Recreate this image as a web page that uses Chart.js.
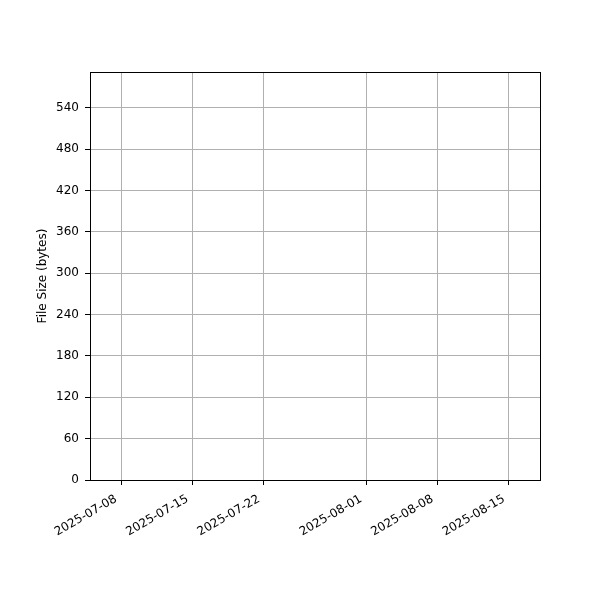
<!DOCTYPE html>
<html lang="en">
<head>
<meta charset="UTF-8" />
<title>File Size</title>
<script src="https://cdn.jsdelivr.net/npm/chart.js@4.4.1/dist/chart.umd.min.js"></script>
<style>
  html, body { margin:0; padding:0; background:#ffffff; }
</style>
</head>
<body>
<canvas id="size_chart" width="600" height="600"></canvas>
<script>
// values (x in days, dates as YYYY-MM-DD)
const xTickDates = ['2025-07-08', '2025-07-15', '2025-07-22', '2025-08-01', '2025-08-08', '2025-08-15'];
const yTicks = [0, 60, 120, 180, 240, 300, 360, 420, 480, 540];
const xRange = ['2025-07-04', '2025-08-18']; // plus fractions below
const yMax = 592;
const fileDates = [];   // no points visible in the reference
const fileSizes = [];

const DAY = 86400000;
function toDay(s) {
  const p = s.split('-');
  return Date.UTC(+p[0], +p[1] - 1, +p[2]) / DAY;
}
function fmtDay(d) {
  const t = new Date(Math.round(d) * DAY);
  const mm = String(t.getUTCMonth() + 1).padStart(2, '0');
  const dd = String(t.getUTCDate()).padStart(2, '0');
  return t.getUTCFullYear() + '-' + mm + '-' + dd;
}

const xMin = toDay(xRange[0]) + 0.96;
const xMax = toDay(xRange[1]) + 0.04;

const points = fileDates.map((d, i) => ({ x: toDay(d), y: fileSizes[i] }));

// matplotlib style closed frame round the plot area
const frame = {
  id: 'frame',
  afterDraw(chart) {
    const a = chart.chartArea, ctx = chart.ctx;
    ctx.save();
    ctx.strokeStyle = '#000000';
    ctx.lineWidth = 1;
    ctx.strokeRect(Math.round(a.left) + 0.5, Math.round(a.top) + 0.5,
                   Math.round(a.right - a.left), Math.round(a.bottom - a.top));
    ctx.restore();
  }
};

Chart.defaults.font.family = '"DejaVu Sans", sans-serif';
Chart.defaults.font.size = 12;
Chart.defaults.color = '#000000';

new Chart(document.getElementById('size_chart'), {
  type: 'line',
  data: {
    datasets: [{
      label: 'File Size',
      data: points,
      borderColor: '#1f77b4',
      backgroundColor: '#1f77b4',
      borderWidth: 1.5,
      pointRadius: 0
    }]
  },
  options: {
    responsive: false,
    animation: false,
    devicePixelRatio: 1,
    layout: { padding: { left: 36, right: 60, top: 72, bottom: 0 } },
    plugins: { legend: { display: false }, tooltip: { enabled: false } },
    scales: {
      x: {
        type: 'linear',
        min: xMin,
        max: xMax,
        afterBuildTicks(s) { s.ticks = xTickDates.map(d => ({ value: toDay(d) })); },
        afterFit(s) { s.height = 120; },
        ticks: {
          callback: v => fmtDay(v),
          minRotation: 30,
          maxRotation: 30,
          autoSkip: false,
          padding: 7,
          labelOffset: -5,
          font: { size: 12 }
        },
        grid: { color: '#b0b0b0', lineWidth: 1, tickColor: '#000000', tickLength: 5 },
        border: { color: '#000000', width: 1 }
      },
      y: {
        min: 0,
        max: yMax,
        afterBuildTicks(s) { s.ticks = yTicks.map(v => ({ value: v })); },
        afterFit(s) { s.width = 54; },
        title: { display: true, text: 'File Size (bytes)', font: { size: 12 }, padding: { top: 0, bottom: 0 } },
        ticks: { padding: 6, font: { size: 12 } },
        grid: { color: '#b0b0b0', lineWidth: 1, tickColor: '#000000', tickLength: 5 },
        border: { color: '#000000', width: 1 }
      }
    }
  },
  plugins: [frame]
});
</script>
</body>
</html>
